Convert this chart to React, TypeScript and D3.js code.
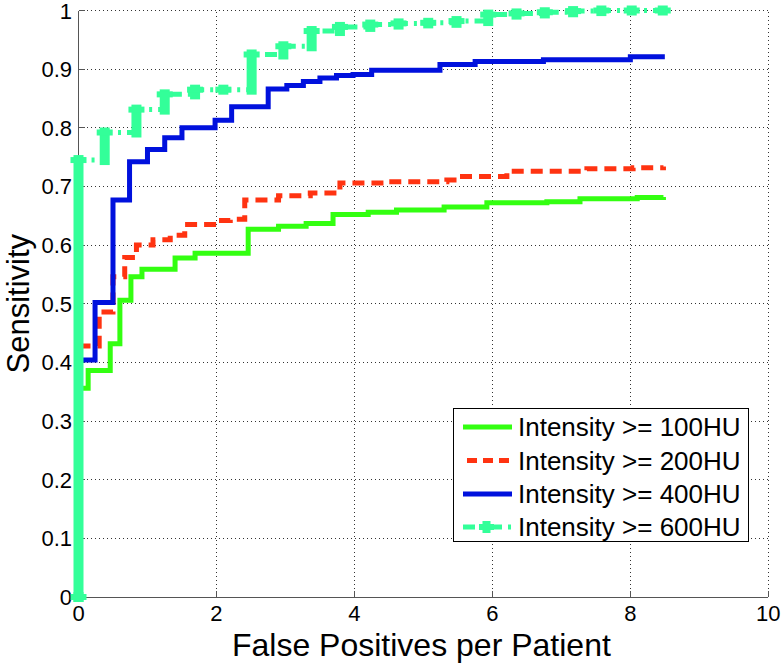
import React from "react";
import * as d3 from "d3";

const W = 783;
const H = 663;

const xTicks = [0, 2, 4, 6, 8, 10];
const yTicks = [0, 0.1, 0.2, 0.3, 0.4, 0.5, 0.6, 0.7, 0.8, 0.9, 1];
const xTickLabels = ["0", "2", "4", "6", "8", "10"];
const yTickLabels = ["0", "0.1", "0.2", "0.3", "0.4", "0.5", "0.6", "0.7", "0.8", "0.9", "1"];

const seriesNames = [
  "Intensity >= 100HU",
  "Intensity >= 200HU",
  "Intensity >= 400HU",
  "Intensity >= 600HU",
];
const seriesColors = ["#33ff11", "#ff3311", "#0011dd", "#33ff99"];

const fp100 = [0, 0.14, 0.46, 0.6, 0.76, 0.92, 1.4, 1.69, 2.46, 2.9, 3.3, 3.69, 4.2, 4.61, 5.3, 5.92, 6.79, 7.27, 8.1, 8.48];
const sens100 = [0.356, 0.386, 0.432, 0.506, 0.546, 0.559, 0.578, 0.586, 0.627, 0.632, 0.637, 0.652, 0.656, 0.66, 0.665, 0.672, 0.674, 0.679, 0.681, 0.682];

const fp200 = [0, 0.3, 0.5, 0.67, 0.84, 1.08, 1.33, 1.54, 2.0, 2.2, 2.41, 2.9, 3.36, 3.79, 4.5, 5.34, 5.53, 6.21, 7.37, 8.04, 8.48];
const sens200 = [0.428, 0.486, 0.546, 0.579, 0.6, 0.609, 0.617, 0.635, 0.642, 0.644, 0.677, 0.684, 0.689, 0.706, 0.708, 0.711, 0.717, 0.726, 0.73, 0.732, 0.734];

const fp400 = [0, 0.24, 0.5, 0.74, 1.0, 1.25, 1.5, 1.98, 2.22, 2.75, 3.02, 3.26, 3.5, 3.74, 3.98, 4.25, 5.24, 5.75, 6.74, 8.0, 8.5];
const sens400 = [0.404, 0.502, 0.677, 0.742, 0.763, 0.783, 0.8, 0.813, 0.836, 0.866, 0.872, 0.879, 0.885, 0.889, 0.891, 0.898, 0.908, 0.913, 0.916, 0.921, 0.921];

const fp600 = [0, 0, 0.38, 0.84, 1.25, 1.69, 2.1, 2.51, 2.97, 3.38, 3.79, 4.23, 4.64, 5.07, 5.48, 5.94, 6.35, 6.76, 7.17, 7.58, 8.02, 8.47];
const sens600 = [0, 0.745, 0.792, 0.831, 0.857, 0.865, 0.865, 0.925, 0.939, 0.965, 0.972, 0.976, 0.978, 0.979, 0.982, 0.993, 0.995, 0.997, 0.999, 1.0, 1.0, 1.0];

const FONT = "'Liberation Sans', Arial, Helvetica, sans-serif";

export default function App() {
  const x = d3.scaleLinear().domain([0, 10]).range([78.5, 768.3]);
  const y = d3.scaleLinear().domain([0, 1]).range([597, 10.5]);

  const line = d3
    .line<[number, number]>()
    .x((d) => x(d[0]))
    .y((d) => y(d[1]))
    .curve(d3.curveStepAfter);

  const zip = (a: number[], b: number[]) => a.map((v, i) => [v, b[i]] as [number, number]);
  const s100 = zip(fp100, sens100);
  const s200 = zip(fp200, sens200);
  const s400 = zip(fp400, sens400);
  const s600 = zip(fp600, sens600);

  const teal = seriesColors[3];

  const tealMarks: JSX.Element[] = [];
  s600.forEach((p, i) => {
    const prevY = i > 0 ? s600[i - 1][1] : p[1];
    const px = x(p[0]);
    const y1 = Math.min(y(prevY), y(p[1])) - 5;
    const y2 = Math.max(y(prevY), y(p[1])) + 5;
    tealMarks.push(
      <rect key={"v" + i} x={px - 5} y={y1} width={10} height={y2 - y1} fill={teal} />
    );
    tealMarks.push(
      <rect key={"h" + i} x={px - 8} y={y(p[1]) - 3} width={16} height={6} fill={teal} />
    );
  });

  const legX0 = 453.5;
  const legY0 = 408.5;
  const legW = 295;
  const legH = 133;
  const rowY = [427, 460.5, 494, 527];

  return (
    <svg
      width={W}
      height={H}
      style={{ position: "absolute", left: 0, top: 0, background: "#fff" }}
      fontFamily={FONT}
    >
      <rect x={0} y={0} width={W} height={H} fill="#fff" />
      <g stroke="#333" strokeWidth={1} strokeDasharray="1,3" shapeRendering="crispEdges">
        {xTicks.slice(1).map((t) => (
          <line key={"gx" + t} x1={x(t)} x2={x(t)} y1={y(0)} y2={y(1)} />
        ))}
        {yTicks.slice(1).map((t) => (
          <line key={"gy" + t} x1={x(0)} x2={x(10)} y1={y(t)} y2={y(t)} />
        ))}
      </g>
      <g stroke="#555" strokeWidth={1} shapeRendering="crispEdges">
        <line x1={x(0)} x2={x(0)} y1={y(0)} y2={y(1)} />
        <line x1={x(0)} x2={x(10)} y1={y(0)} y2={y(0)} />
        {xTicks.map((t) => (
          <line key={"tx" + t} x1={x(t)} x2={x(t)} y1={y(0)} y2={y(0) - 6} />
        ))}
        {yTicks.map((t) => (
          <line key={"ty" + t} x1={x(0)} x2={x(0) + 6} y1={y(t)} y2={y(t)} />
        ))}
      </g>
      <g fontSize={22} fill="#000">
        {xTicks.map((t, i) => (
          <text key={"lx" + t} x={x(t)} y={621} textAnchor="middle">
            {xTickLabels[i]}
          </text>
        ))}
        {yTicks.map((t, i) => (
          <text key={"ly" + t} x={72} y={y(t) + 8} textAnchor="end">
            {yTickLabels[i]}
          </text>
        ))}
      </g>
      <text x={(x(0) + x(10)) / 2 - 2} y={656} textAnchor="middle" fontSize={32} fill="#000">
        False Positives per Patient
      </text>
      <text
        transform={`translate(29,${(y(0) + y(1)) / 2}) rotate(-90)`}
        textAnchor="middle"
        fontSize={31}
        fill="#000"
      >
        Sensitivity
      </text>
      <path d={line(s100) || ""} fill="none" stroke={seriesColors[0]} strokeWidth={5} />
      <path
        d={line(s200) || ""}
        fill="none"
        stroke={seriesColors[1]}
        strokeWidth={5}
        strokeDasharray="12,7"
      />
      <path d={line(s400) || ""} fill="none" stroke={seriesColors[2]} strokeWidth={5} />
      <path
        d={line(s600) || ""}
        fill="none"
        stroke={teal}
        strokeWidth={5}
        strokeDasharray="12,6,3,6"
      />
      {tealMarks}
      <rect x={legX0} y={legY0} width={legW} height={legH} fill="#fff" stroke="#000" strokeWidth={1} />
      {seriesNames.map((name, i) => (
        <g key={name}>
          {i === 1 ? (
            <line x1={467} x2={512} y1={rowY[i]} y2={rowY[i]} stroke={seriesColors[i]} strokeWidth={5} strokeDasharray="10,6" />
          ) : i === 3 ? (
            <g>
              <line x1={463} x2={512} y1={rowY[i]} y2={rowY[i]} stroke={seriesColors[i]} strokeWidth={5} strokeDasharray="12,6,3,6" />
              <rect x={482.5} y={rowY[i] - 6} width={8} height={12} fill={seriesColors[i]} />
              <rect x={479} y={rowY[i] - 3} width={15} height={6} fill={seriesColors[i]} />
            </g>
          ) : (
            <line x1={463} x2={512} y1={rowY[i]} y2={rowY[i]} stroke={seriesColors[i]} strokeWidth={5} />
          )}
          <text x={518} y={rowY[i] + 9} fontSize={26} fill="#000">
            {name}
          </text>
        </g>
      ))}
    </svg>
  );
}
